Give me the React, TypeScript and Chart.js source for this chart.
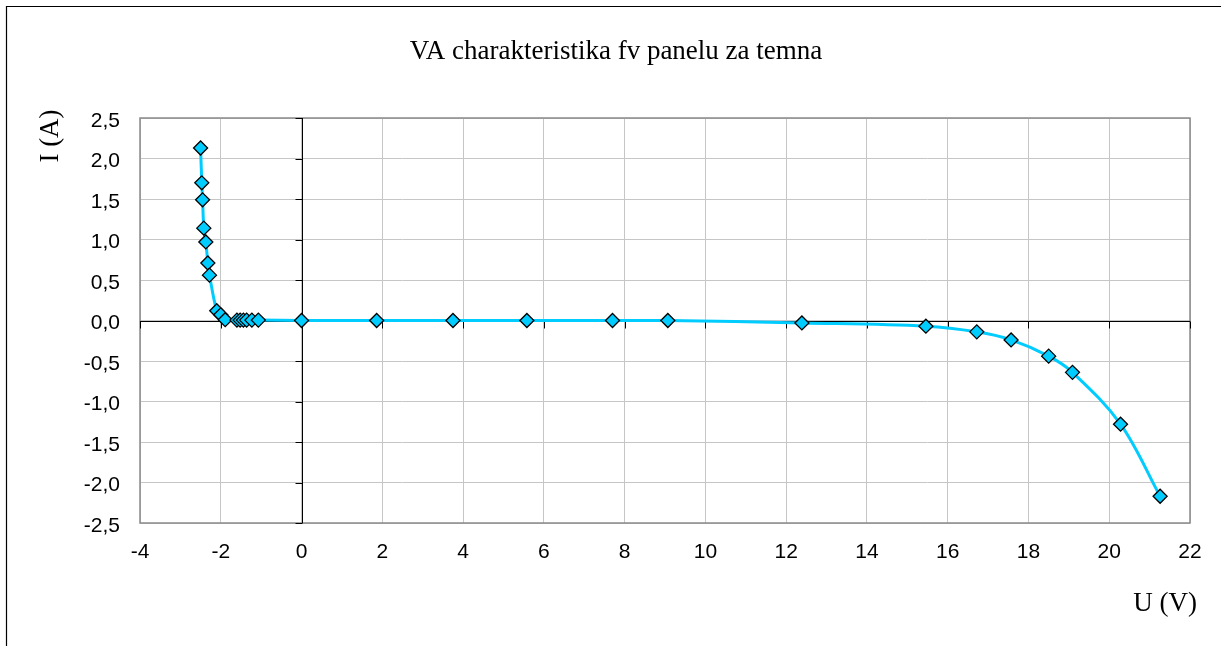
import React, { useEffect, useRef } from "react";
import { Chart, registerables } from "chart.js";

Chart.register(...registerables);

const chartTitle = "VA charakteristika fv panelu za temna";
const xTitle = "U (V)";
const yTitle = "I (A)";

const voltage = [
  -2.5, -2.47, -2.45, -2.42, -2.37, -2.32, -2.28, -2.1, -2.0, -1.89,
  -1.6, -1.52, -1.44, -1.36, -1.23, -1.07, 0.0, 1.86, 3.75, 5.58,
  7.7, 9.07, 12.39, 15.46, 16.72, 17.57, 18.5, 19.09, 20.28, 21.26,
];
const current = [
  2.13, 1.7, 1.49, 1.14, 0.97, 0.71, 0.56, 0.12, 0.07, 0.01,
  0.005, 0.005, 0.005, 0.005, 0.005, 0.005, 0.0, 0.0, 0.0, 0.0,
  0.0, 0.0, -0.03, -0.07, -0.14, -0.24, -0.44, -0.64, -1.28, -2.17,
];

const xMin = -4;
const xMax = 22;
const xStep = 2;
const yMin = -2.5;
const yMax = 2.5;
const yStep = 0.5;

const W = 1221;
const H = 646;
const AREA = { left: 140, top: 118, right: 1190, bottom: 523 };

const decor = {
  id: "decor",
  beforeDraw(chart: any) {
    const ctx = chart.ctx;
    ctx.save();
    ctx.fillStyle = "#ffffff";
    ctx.fillRect(0, 0, W, H);
    ctx.strokeStyle = "#000";
    ctx.lineWidth = 1.2;
    ctx.beginPath();
    ctx.moveTo(6.5, H + 5);
    ctx.lineTo(6.5, 6.5);
    ctx.lineTo(W + 5, 6.5);
    ctx.stroke();
    ctx.restore();
  },
  beforeDatasetsDraw(chart: any) {
    const ctx = chart.ctx;
    const xs = chart.scales.x;
    const ys = chart.scales.y;
    const a = chart.chartArea;
    ctx.save();
    ctx.strokeStyle = "#8a8a8a";
    ctx.lineWidth = 1.5;
    ctx.strokeRect(a.left, a.top, a.right - a.left, a.bottom - a.top);
    const y0 = Math.round(ys.getPixelForValue(0)) + 0.5;
    const x0 = Math.round(xs.getPixelForValue(0)) + 0.5;
    ctx.strokeStyle = "#000";
    ctx.lineWidth = 1;
    ctx.beginPath();
    ctx.moveTo(a.left, y0);
    ctx.lineTo(a.right, y0);
    for (let v = xMin; v <= xMax; v += xStep) {
      const px = Math.round(xs.getPixelForValue(v)) + 0.5;
      ctx.moveTo(px, y0);
      ctx.lineTo(px, y0 + 7);
    }
    ctx.moveTo(x0, a.top);
    ctx.lineTo(x0, a.bottom);
    for (let k = 0; k <= (yMax - yMin) / yStep; k++) {
      const v = yMin + k * yStep;
      const py = Math.round(ys.getPixelForValue(v)) + 0.5;
      ctx.moveTo(x0, py);
      ctx.lineTo(x0 - 7, py);
    }
    ctx.stroke();
    ctx.restore();
  },
  afterDraw(chart: any) {
    const ctx = chart.ctx;
    ctx.save();
    ctx.fillStyle = "#000";
    ctx.font = '27px "Liberation Serif", "Times New Roman", serif';
    ctx.textAlign = "center";
    ctx.textBaseline = "alphabetic";
    ctx.fillText(chartTitle, 616, 59);
    ctx.textAlign = "right";
    ctx.fillText(xTitle, 1197, 611);
    ctx.translate(58, 136);
    ctx.rotate(-Math.PI / 2);
    ctx.textAlign = "center";
    ctx.fillText(yTitle, 0, 0);
    ctx.restore();
  },
};

export default function App() {
  const ref = useRef<HTMLCanvasElement>(null);
  useEffect(() => {
    document.body.style.margin = "0";
    const canvas = ref.current!;
    const points = voltage.map((v, i) => ({ x: v, y: current[i] }));
    const chart = new Chart(canvas, {
      type: "scatter",
      data: {
        datasets: [
          {
            data: points,
            showLine: true,
            borderColor: "#00CCFF",
            borderWidth: 3,
            tension: 0.35,
            pointStyle: "rectRot",
            pointRadius: 7,
            pointHoverRadius: 7,
            pointBackgroundColor: "#00CCFF",
            pointBorderColor: "#000",
            pointBorderWidth: 1.3,
          },
        ],
      },
      options: {
        responsive: false,
        animation: false,
        layout: {
          padding: { left: 0, top: AREA.top, right: W - AREA.right, bottom: 0 },
        },
        plugins: {
          legend: { display: false },
          title: { display: false },
          tooltip: { enabled: false },
        },
        scales: {
          x: {
            type: "linear",
            min: xMin,
            max: xMax,
            afterFit(scale: any) {
              scale.height = H - AREA.bottom;
            },
            afterBuildTicks(scale: any) {
              const t = [];
              for (let v = xMin; v <= xMax; v += xStep) t.push({ value: v });
              scale.ticks = t;
            },
            ticks: {
              color: "#000",
              font: { family: '"Liberation Sans", Arial, sans-serif', size: 21 },
              padding: 17,
              maxRotation: 0,
              callback: (v: any) => String(v),
            },
            grid: { color: "#c6c6c6", lineWidth: 1, drawTicks: false },
            border: { display: false },
          },
          y: {
            type: "linear",
            min: yMin,
            max: yMax,
            afterFit(scale: any) {
              scale.width = AREA.left;
            },
            afterBuildTicks(scale: any) {
              const t = [];
              for (let k = 0; k <= (yMax - yMin) / yStep; k++)
                t.push({ value: yMin + k * yStep });
              scale.ticks = t;
            },
            ticks: {
              color: "#000",
              font: { family: '"Liberation Sans", Arial, sans-serif', size: 21 },
              padding: 20,
              labelOffset: 3,
              callback: (v: any) => Number(v).toFixed(1).replace(".", ","),
            },
            grid: { color: "#c6c6c6", lineWidth: 1, drawTicks: false },
            border: { display: false },
          },
        },
      },
      plugins: [decor],
    });
    return () => chart.destroy();
  }, []);
  return (
    <div style={{ position: "absolute", left: 0, top: 0, width: W, height: H }}>
      <canvas ref={ref} width={W} height={H} style={{ display: "block" }} />
    </div>
  );
}
